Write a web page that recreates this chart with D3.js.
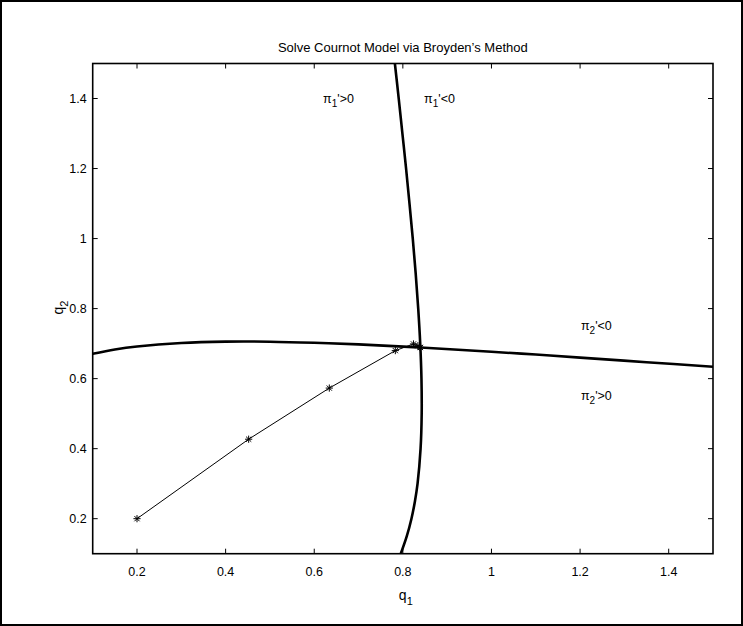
<!DOCTYPE html>
<html>
<head>
<meta charset="utf-8">
<script src="https://cdn.jsdelivr.net/npm/d3@7/dist/d3.min.js"></script>
<style>
  html, body { margin: 0; padding: 0; background: #fff; }
  svg { display: block; }
  text { font-family: "Liberation Sans", Arial, Helvetica, sans-serif; fill: #000; }
</style>
</head>
<body>
<svg id="chart" width="743" height="626"></svg>
<script>
// Reaction curve of firm 1 (pi_1' = 0): q1 values at given q2
const curve1Q2 = [0.10, 0.15, 0.20, 0.25, 0.30, 0.40, 0.50, 0.60, 0.70, 0.80, 0.90, 1.00, 1.10, 1.20, 1.30, 1.40, 1.50];
const curve1Q1 = [0.7953, 0.8089, 0.8194, 0.8273, 0.8332, 0.8400, 0.8425, 0.8420, 0.8392, 0.8347, 0.8290, 0.8224, 0.8150, 0.8073, 0.7990, 0.7907, 0.7820];

// Reaction curve of firm 2 (pi_2' = 0): q2 values at given q1
const curve2Q1 = [0.10, 0.15, 0.20, 0.30, 0.40, 0.50, 0.60, 0.70, 0.84, 1.00, 1.10, 1.20, 1.35, 1.50];
const curve2Q2 = [0.6708, 0.6831, 0.6918, 0.7019, 0.7057, 0.7055, 0.7024, 0.6977, 0.6888, 0.6767, 0.6687, 0.6600, 0.6470, 0.6339];

// Broyden iterates
const iterQ1 = [0.200, 0.452, 0.634, 0.783, 0.824, 0.834, 0.8390, 0.8396];
const iterQ2 = [0.200, 0.427, 0.573, 0.680, 0.699, 0.694, 0.6892, 0.6888];

// Axis ticks
const xTicks = [0.2, 0.4, 0.6, 0.8, 1.0, 1.2, 1.4];
const yTicks = [0.2, 0.4, 0.6, 0.8, 1.0, 1.2, 1.4];

// Region annotations
const annotations = [
  { q1: 0.62, q2: 1.40, sub: "1", rest: "'>0" },
  { q1: 0.848, q2: 1.40, sub: "1", rest: "'<0" },
  { q1: 1.202, q2: 0.75, sub: "2", rest: "'<0" },
  { q1: 1.202, q2: 0.55, sub: "2", rest: "'>0" }
];

const svg = d3.select("#chart");
const W = 743, H = 626;
const plot = { left: 92.7, right: 713, top: 63.5, bottom: 553.7 };

const x = d3.scaleLinear().domain([0.1, 1.5]).range([plot.left, plot.right]);
const y = d3.scaleLinear().domain([0.1, 1.5]).range([plot.bottom, plot.top]);

// Outer frame
svg.append("rect")
  .attr("x", 1).attr("y", 1).attr("width", W - 2).attr("height", H - 2)
  .attr("fill", "none").attr("stroke", "#000").attr("stroke-width", 2);

// Title
svg.append("text")
  .attr("x", (plot.left + plot.right) / 2).attr("y", 52)
  .attr("text-anchor", "middle").attr("font-size", 13)
  .text("Solve Cournot Model via Broyden\u2019s Method");

svg.append("defs").append("clipPath").attr("id", "plotclip")
  .append("rect")
  .attr("x", plot.left).attr("y", plot.top)
  .attr("width", plot.right - plot.left).attr("height", plot.bottom - plot.top);

const g = svg.append("g").attr("clip-path", "url(#plotclip)");

const line = d3.line().x(d => x(d[0])).y(d => y(d[1])).curve(d3.curveCatmullRom);

// Reaction curves
g.append("path")
  .datum(curve1Q2.map((v, i) => [curve1Q1[i], v]))
  .attr("d", line).attr("fill", "none").attr("stroke", "#000").attr("stroke-width", 2.6);
g.append("path")
  .datum(curve2Q1.map((v, i) => [v, curve2Q2[i]]))
  .attr("d", line).attr("fill", "none").attr("stroke", "#000").attr("stroke-width", 2.6);

// Iteration path
const iter = iterQ1.map((v, i) => [v, iterQ2[i]]);
g.append("path")
  .datum(iter)
  .attr("d", d3.line().x(d => x(d[0])).y(d => y(d[1])))
  .attr("fill", "none").attr("stroke", "#000").attr("stroke-width", 1);

// Asterisk markers
const r = 3.6, rd = r * 0.72;
g.selectAll("path.star").data(iter).join("path")
  .attr("class", "star")
  .attr("d", d => {
    const cx = x(d[0]), cy = y(d[1]);
    return `M${cx - r},${cy}L${cx + r},${cy}M${cx},${cy - r}L${cx},${cy + r}` +
           `M${cx - rd},${cy - rd}L${cx + rd},${cy + rd}M${cx - rd},${cy + rd}L${cx + rd},${cy - rd}`;
  })
  .attr("fill", "none").attr("stroke", "#000").attr("stroke-width", 1);

// Axes box with inward ticks on all four sides
const tickLen = 5;
const axes = svg.append("g");
axes.append("rect")
  .attr("x", plot.left).attr("y", plot.top)
  .attr("width", plot.right - plot.left).attr("height", plot.bottom - plot.top)
  .attr("fill", "none").attr("stroke", "#000").attr("stroke-width", 1.6);

xTicks.forEach(t => {
  const px = x(t);
  axes.append("line").attr("x1", px).attr("x2", px)
    .attr("y1", plot.bottom).attr("y2", plot.bottom - tickLen)
    .attr("stroke", "#000").attr("stroke-width", 1);
  axes.append("line").attr("x1", px).attr("x2", px)
    .attr("y1", plot.top).attr("y2", plot.top + tickLen)
    .attr("stroke", "#000").attr("stroke-width", 1);
  axes.append("text").attr("x", px).attr("y", plot.bottom + 22)
    .attr("text-anchor", "middle").attr("font-size", 12.5)
    .text(d3.format("~g")(t));
});

yTicks.forEach(t => {
  const py = y(t);
  axes.append("line").attr("x1", plot.left).attr("x2", plot.left + tickLen)
    .attr("y1", py).attr("y2", py)
    .attr("stroke", "#000").attr("stroke-width", 1);
  axes.append("line").attr("x1", plot.right).attr("x2", plot.right - tickLen)
    .attr("y1", py).attr("y2", py)
    .attr("stroke", "#000").attr("stroke-width", 1);
  axes.append("text").attr("x", plot.left - 6).attr("y", py + 4.5)
    .attr("text-anchor", "end").attr("font-size", 12.5)
    .text(d3.format("~g")(t));
});

// Axis labels with subscripts
const xl = svg.append("text")
  .attr("x", (plot.left + plot.right) / 2 - 4).attr("y", 600)
  .attr("font-size", 14);
xl.append("tspan").text("q");
xl.append("tspan").attr("dy", 5).attr("font-size", 11).text("1");

const yl = svg.append("text")
  .attr("transform", `translate(63,${(plot.top + plot.bottom) / 2 + 6}) rotate(-90)`)
  .attr("font-size", 14);
yl.append("tspan").text("q");
yl.append("tspan").attr("dy", 5).attr("font-size", 11).text("2");

// Region annotations
annotations.forEach(a => {
  const t = svg.append("text")
    .attr("x", x(a.q1)).attr("y", y(a.q2) + 4)
    .attr("font-size", 12.5);
  t.append("tspan").text("\u03c0");
  t.append("tspan").attr("dy", 4).attr("font-size", 10).text(a.sub);
  t.append("tspan").attr("dy", -4).text(a.rest);
});
</script>
</body>
</html>
